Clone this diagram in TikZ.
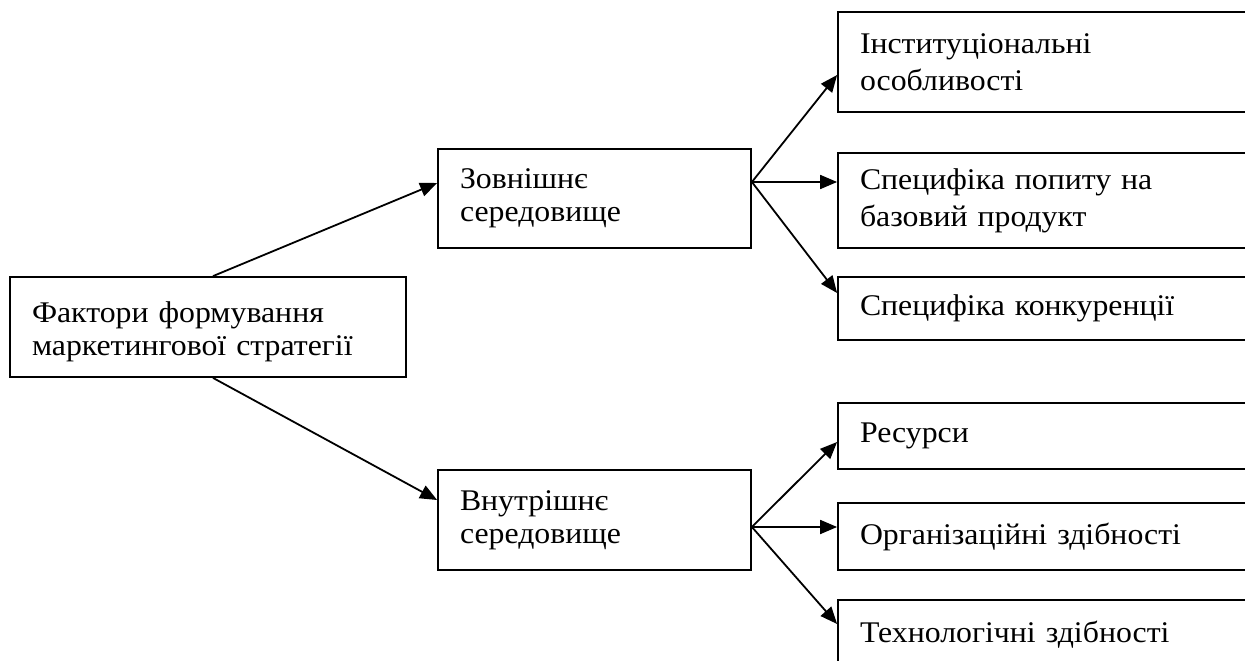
\documentclass[tikz,border=0pt]{standalone}
\usepackage{fontspec}
\setmainfont{Liberation Serif}[FakeStretch=1.06]
\usepackage{tikz}
\usetikzlibrary{arrows.meta}

\tikzset{
  blok/.style={draw, line width=1.8pt, rectangle, align=left, inner xsep=22pt, inner ysep=0pt,
    font=\fontsize{30}{33}\selectfont},
  seredblok/.style={blok, minimum width=313pt, text width=269pt},
  pravblok/.style={blok, minimum width=422pt, text width=378pt, font=\fontsize{30}{37}\selectfont},
  strilka/.style={-{Triangle[length=17pt,width=14pt]}, line width=1.8pt}
}

\begin{document}
\begin{tikzpicture}[x=1pt, y=-1pt]
  \useasboundingbox (0,0) rectangle (1245,661);

  % Головний блок
  \node[blok, minimum width=396pt, minimum height=100pt, text width=352pt,
        text height=30pt, text depth=40pt] (faktory) at (208,327)
    {Фактори формування\\маркетингової стратегії};

  % Середовища
  \node[seredblok, minimum height=99pt] (zovn) at (594.5,198.5) {Зовнішнє\\середовище};
  \node[seredblok, minimum height=100pt] (vnutr) at (594.5,520) {Внутрішнє\\середовище};

  % Зовнішні фактори
  \node[pravblok, minimum height=100pt] (inst) at (1049,62) {Інституціональні\\особливості};
  \node[pravblok, minimum height=95pt] (popyt) at (1049,200.5) {Специфіка попиту на\\базовий продукт};
  \node[pravblok, minimum height=63pt] (konk) at (1049,308.5) {Специфіка конкуренції};

  % Внутрішні фактори
  \node[pravblok, minimum height=66pt] (resursy) at (1049,436) {Ресурси};
  \node[pravblok, minimum height=67pt] (org) at (1049,536.5) {Організаційні здібності};
  \node[pravblok, minimum height=70pt] (tekh) at (1049,635) {Технологічні здібності};

  % Стрілки
  \draw[strilka] ([xshift=5pt]faktory.north) -- ([yshift=15.5pt]zovn.west);
  \draw[strilka] ([xshift=5pt]faktory.south) -- ([yshift=20pt]vnutr.west);

  \draw[strilka] ([yshift=16.5pt]zovn.east) -- ([yshift=-13pt]inst.west);
  \draw[strilka] ([yshift=16.5pt]zovn.east) -- ([yshift=18.5pt]popyt.west);
  \draw[strilka] ([yshift=16.5pt]zovn.east) -- ([yshift=15.5pt]konk.west);

  \draw[strilka] ([yshift=-7pt]vnutr.east) -- ([yshift=-6pt]resursy.west);
  \draw[strilka] ([yshift=-7pt]vnutr.east) -- ([yshift=9.5pt]org.west);
  \draw[strilka] ([yshift=-7pt]vnutr.east) -- ([yshift=11pt]tekh.west);
\end{tikzpicture}
\end{document}
